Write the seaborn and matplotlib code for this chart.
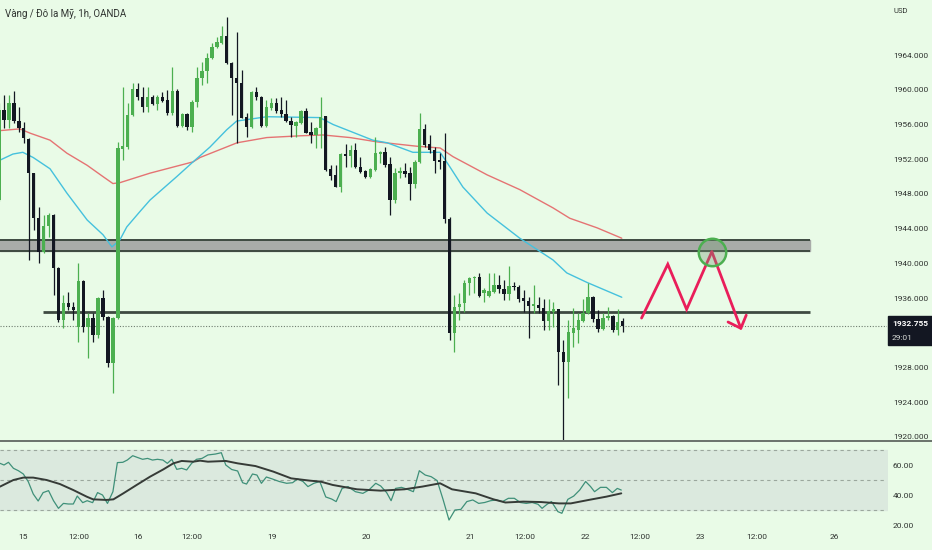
import matplotlib
matplotlib.use('Agg')
import matplotlib.pyplot as plt
import matplotlib.patches as mpatches
import matplotlib.lines as mlines
import numpy as np
import pandas as pd
import seaborn as sns

sns.set_style('white')
plt.rcParams['font.family'] = ['Roboto', 'DejaVu Sans']

bg_color = '#e9fbe7'
up_color = '#4caf50'
down_color = '#131722'
text_color = '#2f3330'

# hourly candles, bar -1 is the one cut by the left edge
bars = list(range(-1, 126))
opens = [
    1947.3, 1957.7, 1956.5, 1958.5, 1956.4, 1955.6, 1954.3, 1950.4, 1945.2, 1941.3,
    1944.3, 1945.6, 1939.5, 1933.5, 1935.4, 1935.0, 1932.7, 1938.0, 1932.7, 1933.7,
    1931.8, 1936.0, 1933.8, 1928.5, 1933.7, 1953.2, 1953.4, 1957.1, 1960.1, 1959.2,
    1958.0, 1959.2, 1958.4, 1959.2, 1958.8, 1957.3, 1959.9, 1955.8, 1957.2, 1955.7,
    1958.6, 1961.4, 1962.2, 1963.7, 1964.9, 1965.4, 1966.2, 1963.1, 1961.4, 1960.8,
    1956.9, 1955.7, 1959.8, 1959.2, 1955.8, 1957.9, 1958.5, 1957.7, 1957.2, 1956.4,
    1955.8, 1956.2, 1957.6, 1955.1, 1954.8, 1955.6, 1957.0, 1950.9, 1950.2, 1948.8,
    1952.6, 1952.4, 1953.1, 1951.1, 1950.6, 1949.9, 1950.8, 1952.6, 1952.8, 1951.5,
    1947.3, 1950.4, 1950.6, 1950.4, 1949.2, 1951.7, 1955.5, 1953.7, 1953.1, 1951.9,
    1951.8, 1945.1, 1932.0, 1935.0, 1935.4, 1937.7, 1938.3, 1938.4, 1936.6, 1936.2,
    1936.7, 1937.5, 1937.1, 1936.5, 1937.4, 1937.3, 1936.0, 1935.7, 1935.1, 1935.2,
    1934.9, 1933.4, 1934.4, 1934.7, 1929.8, 1928.6, 1932.0, 1932.3, 1933.4, 1934.3,
    1936.1, 1933.6, 1932.4, 1933.7, 1933.9, 1932.3, 1933.4,
]
highs = [
    1958.5, 1959.4, 1959.4, 1959.9, 1958.0, 1956.3, 1954.4, 1950.4, 1946.5, 1945.6,
    1945.8, 1945.7, 1939.6, 1936.4, 1936.7, 1935.6, 1940.1, 1938.1, 1934.3, 1934.3,
    1936.1, 1936.9, 1933.9, 1933.8, 1954.0, 1960.3, 1958.5, 1960.8, 1960.8, 1960.3,
    1960.3, 1959.4, 1959.4, 1959.8, 1960.0, 1962.6, 1960.1, 1957.3, 1957.3, 1958.8,
    1962.6, 1963.2, 1964.2, 1965.4, 1966.1, 1967.4, 1968.4, 1963.2, 1966.7, 1962.3,
    1957.3, 1959.9, 1960.3, 1959.3, 1958.8, 1959.1, 1959.1, 1959.2, 1958.8, 1956.9,
    1956.4, 1957.7, 1957.9, 1956.3, 1955.7, 1959.2, 1957.0, 1951.3, 1951.3, 1952.7,
    1953.8, 1953.6, 1953.9, 1952.3, 1950.8, 1951.0, 1954.6, 1952.9, 1953.4, 1952.3,
    1951.0, 1951.1, 1951.6, 1951.1, 1951.9, 1957.3, 1956.1, 1954.8, 1953.4, 1952.7,
    1955.0, 1945.4, 1936.4, 1936.6, 1938.1, 1938.4, 1938.5, 1938.9, 1937.2, 1938.9,
    1938.9, 1938.7, 1938.1, 1939.7, 1937.8, 1937.5, 1936.9, 1936.1, 1937.5, 1936.1,
    1935.9, 1935.9, 1935.6, 1934.8, 1931.2, 1933.5, 1934.9, 1934.3, 1935.9, 1937.7,
    1936.2, 1934.6, 1934.3, 1935.0, 1934.0, 1934.7, 1933.7,
]
lows = [
    1947.2, 1955.6, 1955.6, 1956.2, 1955.1, 1953.9, 1940.4, 1943.8, 1940.0, 1941.2,
    1943.0, 1936.4, 1933.3, 1932.6, 1934.6, 1933.5, 1930.9, 1932.1, 1929.1, 1930.9,
    1931.4, 1933.5, 1928.1, 1925.1, 1933.6, 1951.9, 1953.2, 1957.0, 1958.8, 1957.4,
    1957.4, 1958.3, 1957.7, 1958.6, 1957.1, 1957.1, 1955.7, 1955.7, 1955.4, 1955.1,
    1958.0, 1960.6, 1960.8, 1963.6, 1964.8, 1965.3, 1963.0, 1957.1, 1953.9, 1956.7,
    1954.6, 1955.6, 1958.8, 1955.7, 1955.7, 1957.7, 1957.3, 1956.9, 1956.3, 1954.6,
    1954.6, 1956.1, 1955.0, 1953.9, 1953.3, 1953.3, 1950.6, 1949.6, 1948.8, 1948.2,
    1951.1, 1951.1, 1951.0, 1950.4, 1949.8, 1949.8, 1950.6, 1951.6, 1951.1, 1945.6,
    1947.0, 1949.8, 1950.0, 1947.3, 1948.7, 1951.6, 1953.4, 1952.7, 1950.4, 1950.9,
    1944.7, 1931.2, 1929.8, 1933.5, 1934.4, 1936.4, 1936.6, 1936.1, 1935.6, 1936.1,
    1936.6, 1936.6, 1935.8, 1935.8, 1936.9, 1935.6, 1934.4, 1931.4, 1934.3, 1934.3,
    1932.3, 1932.3, 1932.7, 1926.0, 1919.7, 1924.5, 1930.4, 1930.8, 1933.3, 1934.2,
    1933.3, 1932.1, 1932.3, 1933.5, 1932.1, 1931.8, 1932.1,
]
closes = [
    1957.7, 1956.5, 1958.5, 1956.4, 1955.6, 1954.4, 1950.4, 1945.2, 1941.3, 1944.3,
    1945.6, 1939.5, 1933.5, 1935.4, 1935.0, 1934.6, 1938.0, 1932.7, 1933.7, 1931.8,
    1936.0, 1933.8, 1928.5, 1933.7, 1953.3, 1953.5, 1957.1, 1960.1, 1959.2, 1958.0,
    1959.2, 1958.4, 1959.2, 1958.7, 1957.3, 1959.9, 1955.8, 1957.2, 1955.7, 1958.6,
    1961.4, 1962.2, 1963.7, 1964.9, 1965.5, 1966.2, 1963.1, 1961.4, 1960.8, 1956.8,
    1955.7, 1959.8, 1959.2, 1955.8, 1958.0, 1958.5, 1957.6, 1957.2, 1956.4, 1956.0,
    1956.3, 1957.6, 1955.0, 1954.8, 1955.6, 1956.9, 1950.8, 1950.1, 1948.8, 1952.6,
    1952.4, 1953.1, 1951.1, 1950.5, 1949.9, 1950.9, 1952.7, 1952.8, 1951.3, 1947.3,
    1950.4, 1950.6, 1950.3, 1949.2, 1951.7, 1955.5, 1953.6, 1953.1, 1951.8, 1951.7,
    1945.1, 1932.0, 1935.0, 1935.3, 1937.7, 1938.3, 1938.4, 1936.2, 1936.9, 1936.8,
    1937.5, 1937.0, 1936.5, 1937.4, 1937.3, 1935.9, 1935.7, 1935.1, 1935.3, 1934.9,
    1933.4, 1934.5, 1934.7, 1929.8, 1928.6, 1932.1, 1932.5, 1933.5, 1934.3, 1936.1,
    1933.6, 1932.4, 1933.7, 1933.9, 1932.3, 1933.2, 1932.755,
]

# moving averages (read at a few bars)
slow_ma_bars = [-0.8, 3.2, 5.3, 9.3, 12.7, 16.8, 20.0, 22.0, 23.4, 29.5, 38.2, 39.6, 47.1,
                53.1, 59.8, 64.4, 69.9, 75.4, 83.4, 88.1, 90.7, 97.6, 104.2, 110.9, 114.3,
                119.8, 124.8]
slow_ma = [1955.3, 1955.5, 1955.0, 1954.2, 1952.7, 1951.3, 1950.0, 1949.2, 1949.3, 1950.4,
           1951.7, 1952.2, 1953.9, 1954.5, 1954.7, 1954.8, 1954.5, 1954.0, 1953.5, 1953.3,
           1952.3, 1950.2, 1948.5, 1946.4, 1945.2, 1944.1, 1942.9]
fast_ma_bars = [-0.8, 1.8, 3.8, 5.9, 9.3, 12.7, 16.8, 20.0, 21.8, 23.4, 24.8, 27.5, 29.5,
                34.9, 38.2, 41.6, 45.0, 47.0, 53.1, 63.8, 66.5, 70.5, 74.5, 77.4, 82.6,
                88.1, 90.1, 92.7, 97.6, 104.2, 110.9, 113.7, 117.8, 124.8]
fast_ma = [1951.9, 1952.6, 1952.8, 1952.2, 1950.9, 1948.1, 1945.0, 1943.3, 1941.9, 1942.7,
           1944.2, 1946.0, 1947.3, 1950.0, 1951.7, 1953.4, 1955.4, 1956.4, 1956.9, 1956.8,
           1956.0, 1955.1, 1954.2, 1953.9, 1952.8, 1952.8, 1951.1, 1948.8, 1945.8, 1942.9,
           1940.4, 1938.9, 1937.8, 1936.1]

# RSI pane
rsi_bars = [-0.8, 0, 0.9, 1.9, 2.9, 3.9, 4.9, 5.9, 6.9, 7.9, 9.0, 10.0, 11.0, 12.0, 13.0,
            14.0, 14.8, 15.9, 16.8, 17.9, 18.9, 19.9, 20.9, 22.0, 22.9, 24.0, 24.9, 26.0,
            26.9, 28.0, 29.0, 30.0, 31.0, 32.1, 33.0, 33.9, 34.9, 35.9, 36.9, 37.9, 38.9,
            40.0, 41.2, 42.7, 43.9, 44.8, 46.0, 47.2, 48.2, 49.0, 50.2, 51.1, 52.0, 53.0,
            54.2, 55.6, 57.1, 58.3, 59.3, 60.4, 61.4, 62.6, 63.8, 65.0, 66.2, 67.1, 68.3,
            69.5, 71.0, 72.5, 73.7, 75.1, 76.1, 77.3, 78.2, 79.1, 80.3, 81.5, 82.7, 83.9,
            85.1, 86.3, 87.5, 88.7, 89.9, 91.1, 92.3, 93.5, 94.7, 95.9, 97.1, 98.3, 99.5,
            100.7, 101.9, 103.1, 104.3, 105.5, 106.7, 107.9, 108.7, 109.7, 110.6, 111.9,
            112.7, 113.9, 115.1, 116.3, 117.5, 118.5, 119.3, 120.5, 121.7, 122.9, 123.9,
            124.7]
rsi = [61.1, 60.0, 61.8, 57.8, 56.2, 54.0, 48.9, 40.7, 36.0, 41.6, 42.9, 36.2, 31.1, 34.4,
       34.0, 34.0, 39.3, 34.9, 36.2, 34.9, 41.6, 40.0, 34.4, 42.2, 61.6, 61.8, 63.3, 66.2,
       65.1, 63.8, 64.4, 63.3, 63.8, 63.3, 61.1, 63.8, 57.1, 57.8, 56.7, 61.1, 63.8,
       64.4, 66.7, 67.3, 68.2, 60.0, 57.0, 56.0, 48.2, 47.3, 54.0, 53.3, 47.8, 52.0,
       50.7, 49.0, 47.8, 48.2, 50.7, 49.0, 45.6, 47.8, 49.0, 38.7, 37.3, 35.6, 44.4,
       45.6, 42.2, 41.1, 43.3, 47.8, 46.0, 41.6, 36.2, 44.4, 45.1, 43.8, 42.2, 56.2,
       53.3, 52.2, 49.6, 37.0, 23.3, 30.0, 30.4, 35.6, 36.7, 34.4, 35.0, 36.2, 36.7,
       35.6, 37.8, 37.8, 35.0, 34.4, 35.0, 33.8, 31.1, 33.8, 35.6, 28.9,
       27.8, 37.1, 39.3, 43.3, 49.0, 45.6, 42.2, 45.1, 45.1, 41.6, 44.4,
       43.3]
rsi_ma_bars = [-0.8, 1.9, 3.9, 5.9, 8.6, 11.3, 14.0, 16.7, 18.0, 20.7, 22.1, 24.1, 26.8,
               29.5, 32.2, 34.2, 35.9, 38.2, 39.6, 41.2, 44.8, 47.2, 50.8, 54.4, 58.0, 61.7,
               64.0, 66.4, 71.3, 76.1, 80.9, 84.5, 88.1, 90.5, 95.3, 98.9, 101.3, 104.9,
               108.5, 112.1, 114.5, 118.1, 121.7, 124.7]
rsi_ma = [45.6, 50.0, 51.6, 51.6, 50.0, 47.3, 43.3, 38.9, 37.1, 36.7, 37.1, 41.1, 46.7,
          52.2, 57.1, 61.1, 62.7, 62.2, 62.9, 62.2, 62.7, 61.1, 59.3, 55.6, 51.1, 49.6,
          48.9, 46.7, 43.8, 42.9, 43.8, 45.6, 47.8, 43.8, 41.1, 37.1, 35.0, 35.6,
          35.3, 34.4, 34.4, 36.7, 38.9, 41.1]

# drawings
zone_low, zone_high = 1941.46, 1942.70
zone_end_bar = 162.8
support_price = 1934.45
support_start_bar = 7.9
last_price = 1932.755
countdown = '29:01'
zigzag_bars = [128.8, 134.1, 137.9, 143.0, 149.0]
zigzag_prices = [1933.7, 1939.9, 1934.7, 1941.35, 1932.3]

price_ticks = [1924, 1928, 1936, 1940, 1944, 1948, 1952, 1956, 1960, 1964, 1920]
rsi_ticks = [20, 40, 60]
date_tick_bars = [3.84, 15.05, 27.07, 37.98, 54.04, 73.13, 94.14, 105.15, 117.37, 128.38,
                  140.6, 152.1, 167.8]
date_tick_labels = ['15', '12:00', '16', '12:00', '19', '20', '21', '12:00', '22', '12:00',
                    '23', '12:00', '26']

candles = pd.DataFrame(dict(bar=bars, open=opens, high=highs, low=lows, close=closes))
candles['color'] = np.where(candles.close >= candles.open, up_color, down_color)
candles['body_low'] = candles[['open', 'close']].min(axis=1)
candles['body_size'] = (candles.close - candles.open).abs().clip(lower=0.15)

W, H = 932, 550
plot_right = 887
fig = plt.figure(figsize=(W / 100, H / 100), dpi=100, facecolor=bg_color)
ax = fig.add_axes([0, 1 - 440 / H, plot_right / W, 440 / H])
rsi_ax = fig.add_axes([0, 1 - 528 / H, plot_right / W, 87 / H], sharex=ax)

x_left, x_right = -0.81, (plot_right - 4) / 4.95
for a in (ax, rsi_ax):
    a.set_facecolor(bg_color)
    for s in a.spines.values():
        s.set_visible(False)

# candles
ax.vlines(candles.bar, candles.low, candles.high, colors=candles.color, linewidth=0.9, zorder=3)
ax.bar(candles.bar, candles.body_size, bottom=candles.body_low, width=0.68,
       color=candles.color, linewidth=0, zorder=4)

sns.lineplot(x=slow_ma_bars, y=slow_ma, color='#e57373', linewidth=1.0, ax=ax,
             estimator=None, sort=False, zorder=2)
sns.lineplot(x=fast_ma_bars, y=fast_ma, color='#45c1dd', linewidth=1.0, ax=ax,
             estimator=None, sort=False, zorder=2)

# resistance zone and support line
ax.fill_between([x_left, zone_end_bar], zone_low, zone_high, color='#a9aca9', zorder=1)
ax.hlines([zone_low, zone_high], x_left, zone_end_bar, color='#3e4a41', linewidth=1.4, zorder=1)
ax.hlines(support_price, support_start_bar, zone_end_bar, color='#3e4a41', linewidth=2.0, zorder=1)
ax.axhline(last_price, color='#6f7d70', linewidth=0.8, linestyle=(0, (1, 1.5)), zorder=1)

# projected path
zz_color = '#e91e5a'
ax.plot(zigzag_bars[:-1], zigzag_prices[:-1], color=zz_color, linewidth=2.0, zorder=6,
        solid_joinstyle='miter')
ax.annotate('', xy=(zigzag_bars[-1], zigzag_prices[-1]),
            xytext=(zigzag_bars[-2], zigzag_prices[-2]),
            arrowprops=dict(arrowstyle='->,head_length=0.75,head_width=0.7', color=zz_color,
                            linewidth=2.0, shrinkA=0, shrinkB=0), zorder=6)
ax.scatter([zigzag_bars[3]], [zigzag_prices[3]], s=390, facecolor=(0.45, 0.6, 0.45, 0.35),
           edgecolor='#4caf50', linewidth=1.8, zorder=7)

ax.set_xlim(x_left, x_right)
ax.set_ylim(1919.65, 1970.35)
ax.yaxis.tick_right()
ax.set_yticks(price_ticks)
ax.set_yticklabels([f'{p:.3f}' for p in price_ticks])
ax.tick_params(axis='y', length=0, pad=4.3, labelsize=6, labelcolor=text_color)
ax.tick_params(axis='x', length=0, labelbottom=False)

# RSI
rsi_ax.fill_between([x_left, x_right], 30, 70, color='#dbe9de', zorder=0)
rsi_ax.hlines([30, 50, 70], x_left, x_right, color='#9ba79d', linewidth=0.8,
              linestyle=(0, (3, 3)), zorder=1)
sns.lineplot(x=rsi_bars, y=rsi, color='#3f9079', linewidth=0.9, ax=rsi_ax,
             estimator=None, sort=False, zorder=3)
sns.lineplot(x=rsi_ma_bars, y=rsi_ma, color='#363b37', linewidth=1.4, ax=rsi_ax,
             estimator=None, sort=False, zorder=4)
rsi_ax.set_ylim(18, 76)
rsi_ax.yaxis.tick_right()
rsi_ax.set_yticks(rsi_ticks)
rsi_ax.set_yticklabels([f'{v:.2f}' for v in rsi_ticks])
rsi_ax.tick_params(axis='y', length=0, pad=4.3, labelsize=6, labelcolor=text_color)
rsi_ax.set_xticks(date_tick_bars)
rsi_ax.set_xticklabels(date_tick_labels)
rsi_ax.tick_params(axis='x', length=0, pad=4.5, labelsize=6, labelcolor=text_color)
rsi_ax.set_xlabel('')
rsi_ax.set_ylabel('')

# pane separator, header, price tag
fig.add_artist(mlines.Line2D([0, 1], [1 - 440.5 / H, 1 - 440.5 / H], color='#555b56',
                             linewidth=1.2, transform=fig.transFigure))
fig.text(5 / W, 1 - 14 / H, 'Vàng / Đô la Mỹ, 1h, OANDA', fontsize=7, color=text_color,
         va='center', ha='left')
fig.text(893 / W, 1 - 11 / H, 'USD', fontsize=5.5, color=text_color, va='center', ha='left')
fig.add_artist(mpatches.Rectangle((888 / W, 1 - 345 / H), 44 / W, 29 / H,
                                  transform=fig.transFigure, color='#131722', zorder=5))
fig.text(892 / W, 1 - 323.5 / H, f'{last_price:.3f}', fontsize=6, color='white',
         fontweight='bold', va='center', ha='left', zorder=6)
fig.text(892 / W, 1 - 337.5 / H, countdown, fontsize=6, color='#d8dcd8',
         va='center', ha='left', zorder=6)

fig.savefig('out.png', dpi=100, facecolor=bg_color)
